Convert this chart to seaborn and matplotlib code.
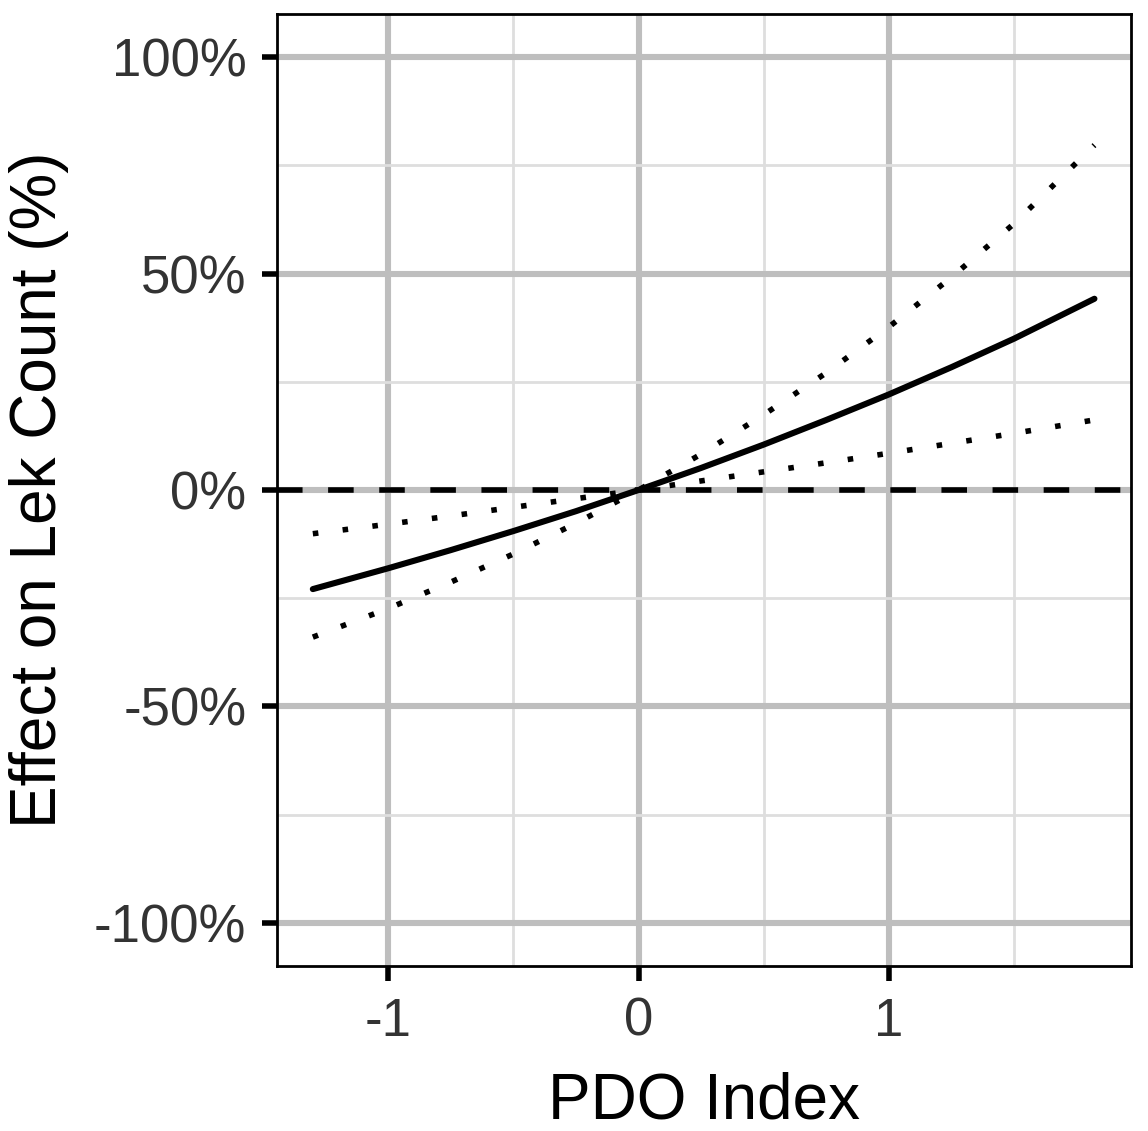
import matplotlib

matplotlib.use("Agg")
import matplotlib.pyplot as plt
import numpy as np
import pandas as pd
import seaborn as sns
from matplotlib.ticker import FixedLocator

# values (PDO index vs. % effect on lek count)
pdo = [-1.3, -1.0, -0.75, -0.5, -0.25, 0.0, 0.25, 0.5, 0.75, 1.0, 1.25, 1.5, 1.82]
effect = [-22.9, -18.1, -13.9, -9.5, -4.9, 0.0, 5.1, 10.5, 16.2, 22.1, 28.4, 35.0, 44.2]
upper = [-34.0, -27.4, -21.3, -14.8, -7.7, 0.0, 8.3, 17.4, 27.1, 37.7, 49.2, 61.6, 79.7]
lower = [-10.1, -7.9, -6.0, -4.0, -2.0, 0.0, 2.1, 4.2, 6.3, 8.5, 10.8, 13.1, 16.2]

x_major = [-1, 0, 1]
x_minor = [-0.5, 0.5, 1.5]
y_major = [-100, -50, 0, 50, 100]
y_minor = [-75, -25, 25, 75]

INK = "#333333"
MAJOR, MINOR = "#bebebe", "#dedede"

sns.set_theme(style="white")
plt.rcParams["font.family"] = ["Liberation Sans", "DejaVu Sans"]

df = pd.DataFrame({"pdo": pdo, "effect": effect, "upper": upper, "lower": lower})

fig = plt.figure(figsize=(5.74, 5.655), dpi=200)
ax = fig.add_axes([0.2413, 0.1459, 0.7439, 0.8417])

ax.xaxis.set_major_locator(FixedLocator(x_major))
ax.xaxis.set_minor_locator(FixedLocator(x_minor))
ax.yaxis.set_major_locator(FixedLocator(y_major))
ax.yaxis.set_minor_locator(FixedLocator(y_minor))
ax.grid(which="major", color=MAJOR, lw=2.2, zorder=0)
ax.grid(which="minor", color=MINOR, lw=1.0, zorder=0)
ax.set_axisbelow(True)

ax.axhline(0, color="black", lw=2.0, dashes=(4.6, 4.6), zorder=2)

# confidence bounds as dotted lines with square dots
for col in ("upper", "lower"):
    sns.lineplot(data=df, x="pdo", y=col, ax=ax, color="black", lw=2.0,
                 dashes=False, zorder=3).lines[-1].set_dashes((1, 4.4))
for ln in ax.lines[1:]:
    ln.set_dash_capstyle("butt")
sns.lineplot(data=df, x="pdo", y="effect", ax=ax, color="black", lw=2.2, zorder=4)

ax.set_xlim(-1.443, 1.966)
ax.set_ylim(-110, 110)
ax.set_yticklabels([f"{v}%" for v in y_major])
ax.set_xticklabels([str(v) for v in x_major])

# seaborn's white style hides tick marks, turn them back on
ax.tick_params(which="major", bottom=True, left=True, direction="out",
               length=5.5, width=2.0, color="black",
               labelsize=19, labelcolor=INK, pad=5.5)
ax.tick_params(which="minor", bottom=False, left=False, length=0)
for s in ax.spines.values():
    s.set_color("black")
    s.set_linewidth(1.0)

ax.set_xlabel("PDO Index", fontsize=23, color="black", labelpad=9)
ax.set_ylabel("Effect on Lek Count (%)", fontsize=23, color="black", labelpad=9)

fig.savefig("out.png", dpi=200)
